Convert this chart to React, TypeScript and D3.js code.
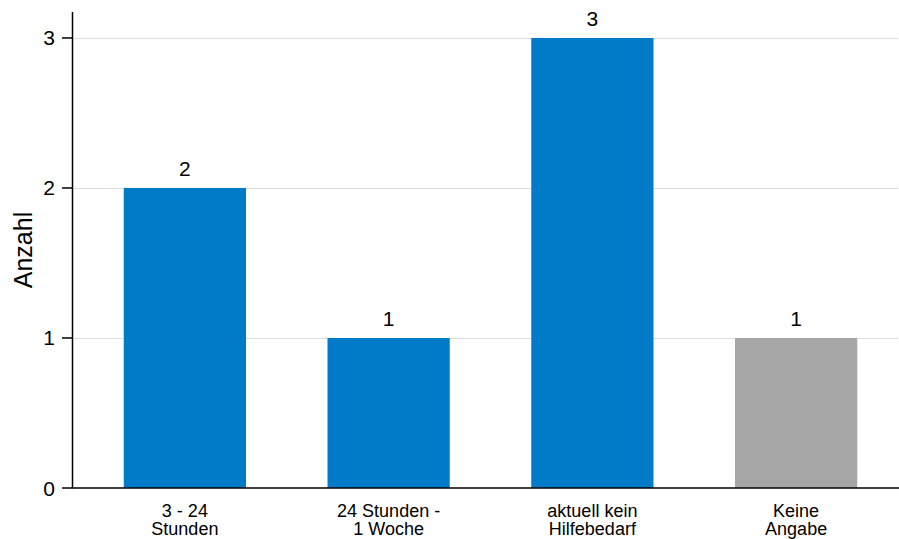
import React from "react";
import * as d3 from "d3";

const categories: string[][] = [["3 - 24", "Stunden"], ["24 Stunden -", "1 Woche"], ["aktuell kein", "Hilfebedarf"], ["Keine", "Angabe"]];
const values: number[] = [2, 1, 3, 1];
const barColors: string[] = ["#007BC8", "#007BC8", "#007BC8", "#A6A6A6"];
const yTicks: number[] = [0, 1, 2, 3];
const yTitle = "Anzahl";

const W = 899, H = 539;
const FONT = "'Liberation Sans', Arial, sans-serif";

export default function App() {
  const x = d3.scaleBand<number>().domain(d3.range(categories.length)).range([83, 898]).paddingInner(0.4).paddingOuter(0.2);
  const y = d3.scaleLinear().domain([0, 3.173]).range([488, 12]);
  const x0 = 72.5;
  return (
    <svg width={W} height={H} style={{ position: "absolute", left: 0, top: 0, background: "#fff" }} fontFamily={FONT}>
      {yTicks.filter(t => t > 0).map(t => (
        <line key={"g" + t} x1={x0} x2={898} y1={Math.round(y(t)) + 0.5} y2={Math.round(y(t)) + 0.5} stroke="#DCDCDC" strokeWidth={1} />
      ))}
      {values.map((v, i) => (
        <rect key={"b" + i} x={x(i)!} y={y(v)} width={x.bandwidth()} height={y(0) - y(v)} fill={barColors[i]} />
      ))}
      {values.map((v, i) => (
        <text key={"v" + i} x={x(i)! + x.bandwidth() / 2} y={y(v) - 11.5} textAnchor="middle" fontSize={21} fill="#000">{v}</text>
      ))}
      <line x1={x0} x2={x0} y1={12} y2={488} stroke="#000" strokeWidth={1.5} />
      <line x1={x0 - 0.75} x2={899} y1={488} y2={488} stroke="#000" strokeWidth={1.5} />
      {yTicks.map(t => (
        <g key={"t" + t}>
          <line x1={62} x2={x0} y1={y(t)} y2={y(t)} stroke="#000" strokeWidth={1.5} />
          <text x={55} y={y(t) + 7.5} textAnchor="end" fontSize={21} fill="#000">{t}</text>
        </g>
      ))}
      {categories.map((c, i) => (
        <text key={"c" + i} x={x(i)! + x.bandwidth() / 2} textAnchor="middle" fontSize={18} fill="#000">
          {c.map((line, j) => (
            <tspan key={j} x={x(i)! + x.bandwidth() / 2} y={516.5 + j * 18}>{line}</tspan>
          ))}
        </text>
      ))}
      <text transform={`translate(31.5,${(12 + 488) / 2}) rotate(-90)`} textAnchor="middle" fontSize={25} fill="#000">{yTitle}</text>
    </svg>
  );
}
